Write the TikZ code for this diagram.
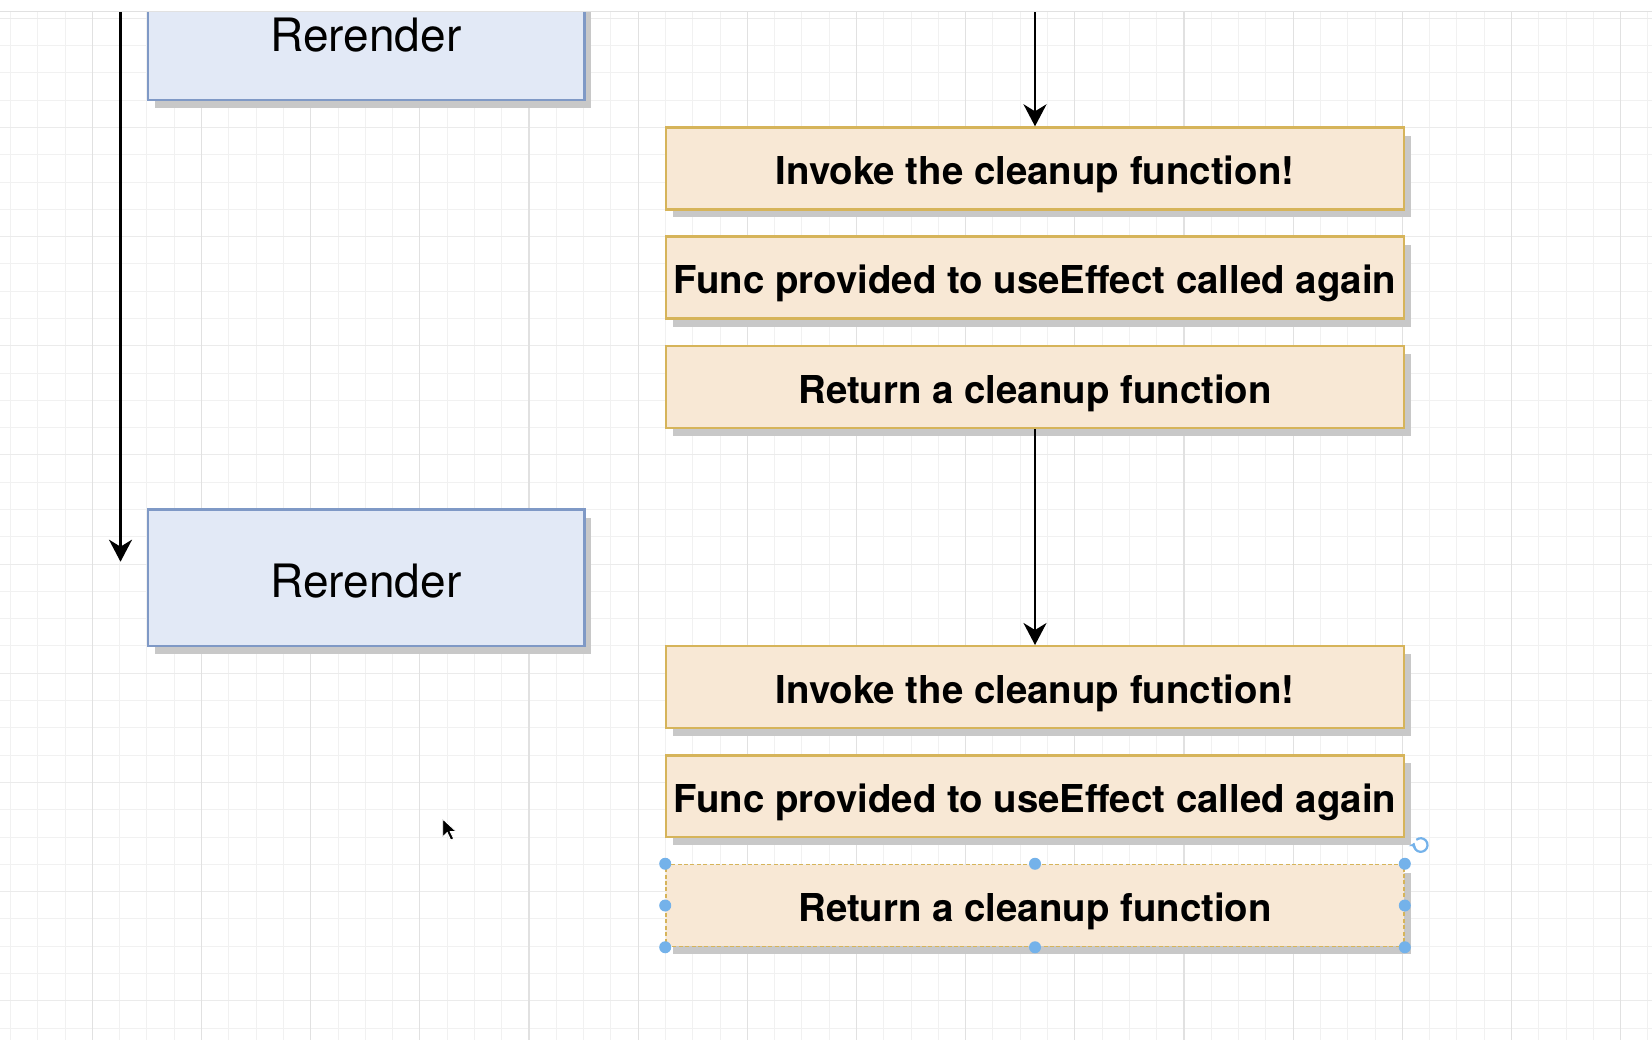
\documentclass[tikz,border=0pt]{standalone}
\usepackage{fontspec}
\setmainfont{TeX Gyre Heros}
\usetikzlibrary{arrows.meta,shadows}
\definecolor{gridminor}{HTML}{F1F1F1}
\definecolor{gridmid}{HTML}{EBEBEB}
\definecolor{gridmajor}{HTML}{E1E1E1}
\definecolor{orfill}{HTML}{F8E8D5}
\definecolor{ordraw}{HTML}{D6B45A}
\definecolor{blfill}{HTML}{E2E9F6}
\definecolor{bldraw}{HTML}{7F99C6}
\definecolor{shadowgray}{HTML}{C8C8C8}
\definecolor{handleblue}{HTML}{74B2EA}
\begin{document}
\begin{tikzpicture}[x=0.5pt,y=-0.5pt,
  boxshadow/.style={drop shadow={shadow xshift=3.5pt,shadow yshift=-4pt,fill=shadowgray,opacity=1}},
  stepbox/.style={boxshadow, rectangle, fill=orfill, draw=ordraw, line width=1.2pt,
    minimum width=369pt, minimum height=40.95pt, inner sep=0pt,
    text height=16.2pt, text depth=0pt,
    font=\fontsize{19.2}{22}\selectfont\bfseries},
  selbox/.style={stepbox, dash pattern=on 2pt off 1.2pt, line width=0.8pt},
  renderbox/.style={boxshadow, rectangle, fill=blfill, draw=bldraw, line width=1.2pt,
    minimum width=218.3pt, minimum height=68.2pt, inner sep=0pt,
    text height=19.5pt, text depth=0pt,
    font=\fontsize{23}{27}\selectfont},
  flow/.style={line width=1.35pt, -{Stealth[length=11pt,width=11.5pt,inset=3.5pt]}},
  handle/.style={fill=handleblue},
  gminor/.style={draw=gridminor, line width=0.5pt},
  gmid/.style={draw=gridmid, line width=0.5pt},
  gmajor/.style={draw=gridmajor, line width=0.6pt}
]
\useasboundingbox (0,0) rectangle (1652,1040);
\fill[white] (0,0) rectangle (1652,1040);
% grid
\foreach \k in {0,...,60}{\draw[gminor] ({10.53+27.29*\k},11) -- ({10.53+27.29*\k},1040);}
\foreach \k in {0,...,37}{\draw[gminor] (0,{18.3+27.29*\k}) -- (1652,{18.3+27.29*\k});}
\foreach \k in {0,4,...,36}{\draw[gmid] (0,{18.3+27.29*\k}) -- (1652,{18.3+27.29*\k});}
\foreach \k in {3,7,...,59}{\draw[gmajor] ({10.53+27.29*\k},11) -- ({10.53+27.29*\k},1040);}

% left column
\node[renderbox] (r1) at (366,32) {Rerender};
\node[renderbox] (r2) at (366,577.7) {Rerender};
\coordinate (ltop) at (120.5,11);
\coordinate (lend) at (120.5,561.7);
\draw[flow] (ltop) -- (lend);

% right column
\node[stepbox] (b1) at (1035,168.45) {Invoke the cleanup function!};
\node[stepbox] (b2) at (1035,277.6) {Func provided to useEffect called again};
\node[stepbox] (b3) at (1035,387.05) {Return a cleanup function};
\node[stepbox] (b4) at (1035,687.15) {Invoke the cleanup function!};
\node[stepbox] (b5) at (1035,796.3) {Func provided to useEffect called again};
\node[selbox] (b6) at (1035,905.5) {Return a cleanup function};
\coordinate (rtop) at (1035,11);
\draw[flow] (rtop) -- (b1.north);
\draw[flow] (b3.south) -- (b4.north);

% selection handles
\foreach \a in {north west,north,north east,west,east,south west,south,south east}{
  \fill[handle] (b6.\a) circle (3pt);}
% rotate icon
\coordinate (rot) at (1420.7,845);
\draw[handleblue, line width=1.1pt, -{Stealth[length=2.6pt,width=4pt]}]
  ([shift={(130:3.4pt)}]rot) arc[start angle=130, end angle=-200, radius=3.4pt];

% mouse cursor
\coordinate (cur) at (442.7,819);
\filldraw[fill=black, draw=white, line width=0.4pt] (cur) -- ++(0,18) -- ++(4.5,-4.5) -- ++(3.5,7.5)
  -- ++(3,-1.3) -- ++(-3.5,-7.2) -- ++(6,0) -- cycle;

% top band
\fill[white] (0,0) rectangle (1652,11);
\draw[draw=gridmajor, line width=0.5pt] (0,11) -- (1652,11);
\end{tikzpicture}
\end{document}
